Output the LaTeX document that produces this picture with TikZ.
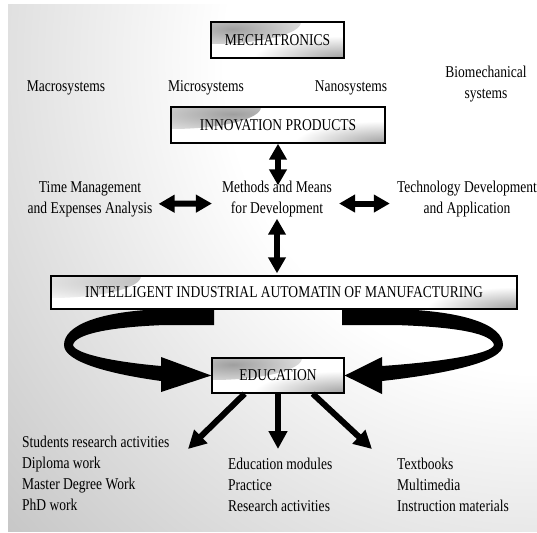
\documentclass[tikz,border=0pt]{standalone}
\usepackage{fontspec}
\setmainfont{Liberation Serif}[FakeStretch=0.82]
\usepackage{tikz}
\usetikzlibrary{arrows.meta, calc, positioning, shadings}

\definecolor{panelgrey}{HTML}{B1B1B1}
\pgfdeclareradialshading{panelglow}{\pgfpoint{0bp}{0bp}}{color(0bp)=(white); color(13bp)=(white); color(36bp)=(panelgrey); color(50bp)=(panelgrey)}
\pgfdeclarelayer{panel}
\pgfdeclarelayer{ribbon}
\pgfsetlayers{panel,ribbon,main}

\begin{document}
\begin{tikzpicture}[x=1pt, y=-1pt,
    box/.style={draw, line width=1.4pt, fill=white, inner sep=0pt, font=\fontsize{16.5}{21}\selectfont,
        path picture={
            \shade[inner color=gray!75, outer color=white] (path picture bounding box.north west) ellipse (90pt and 22pt);
            \shade[inner color=gray!75, outer color=white] (path picture bounding box.south east) ellipse (90pt and 22pt);
        }},
    txt/.style={inner sep=0pt, font=\fontsize{16.5}{21}\selectfont, align=center, anchor=base},
    lst/.style={inner sep=0pt, font=\fontsize{16.5}{21}\selectfont, align=left, anchor=base west},
    dbl/.style={line width=6pt, {Triangle[length=16pt, width=17pt]}-{Triangle[length=16pt, width=17pt]}},
    one/.style={line width=6pt, -{Triangle[length=18pt, width=18pt]}},
]
\useasboundingbox (0,0) rectangle (537,532);

% shaded panel, light towards the upper right
\begin{pgfonlayer}{panel}
    \clip (8,5) rectangle (537,531);
    \shade[shading=panelglow] (-63,-540) rectangle (1137,660);
\end{pgfonlayer}

% boxes
\node[box, minimum width=133pt, minimum height=36pt] (mech) at (277.5,40) {MECHATRONICS};
\node[box, minimum width=214pt, minimum height=36pt] (innov) at (278,125) {INNOVATION PRODUCTS};
\node[box, minimum width=466pt, minimum height=33pt] (intel) at (284,292.5) {INTELLIGENT INDUSTRIAL AUTOMATIN OF MANUFACTURING};
\node[box, minimum width=132pt, minimum height=35pt] (educ) at (278,375.5) {EDUCATION};

% ring of arrows from automation down to education
\begin{pgfonlayer}{ribbon}
\fill (intel.south -| 214,0) -- (165,309) .. controls (100,311) and (64,325) .. (64,345)
    .. controls (64,362) and (110,374) .. (161,381) -- (161,392) -- (educ.west) -- (161,357) -- (161,366)
    .. controls (115,362) and (75,354) .. (73,345) .. controls (75,334) and (110,327) .. (165,325) -- (214,325) -- cycle;
\fill (intel.south -| 342,0) -- (395,309) .. controls (465,311) and (503,325) .. (503,345)
    .. controls (503,362) and (445,374) .. (382,381) -- (382,394) -- (educ.east) -- (382,357) -- (382,366)
    .. controls (440,362) and (492,354) .. (494,345) .. controls (492,334) and (460,327) .. (395,325) -- (342,325) -- cycle;
\end{pgfonlayer}

% labels
\node[txt] (macro) at (66,92) {Macrosystems};
\node[txt] (micro) at (206,92) {Microsystems};
\node[txt] (nano) at (351,92) {Nanosystems};
\node[txt] (bio) at (486,99) {Biomechanical\\systems};
\node[txt] (time) at (90,213) {Time Management\\and Expenses Analysis};
\node[txt] (means) at (277,213) {Methods and Means\\for Development};
\node[txt] (tech) at (467,213) {Technology Development\\and Application};

\node[lst] (research) at (22,510) {Students research activities\\Diploma work\\Master Degree Work\\PhD work};
\node[lst] (modules) at (228,511) {Education modules\\Practice\\Research activities};
\node[lst] (books) at (397,511) {Textbooks\\Multimedia\\Instruction materials};

% arrows
\draw[dbl] (innov.south) -- ($(innov.south |- means.north)+(0,5)$);
\draw[dbl] ($(means.south)+(0,2)$) -- ($(intel.north -| means.south)+(0,-2)$);
\draw[dbl] ($(time.east)+(6,5)$) -- ($(means.west)+(-10,5)$);
\draw[dbl] ($(means.east)+(7,5)$) -- ($(tech.west)+(-7,5)$);

\coordinate (tipL) at (188,449);
\coordinate (tipM) at (278,449);
\coordinate (tipR) at (372,449);
\draw[one] ($(educ.south west)!0.25!(educ.south east)$) -- (tipL);
\draw[one] (educ.south) -- (tipM);
\draw[one] ($(educ.south west)!0.76!(educ.south east)$) -- (tipR);
\end{tikzpicture}
\end{document}
